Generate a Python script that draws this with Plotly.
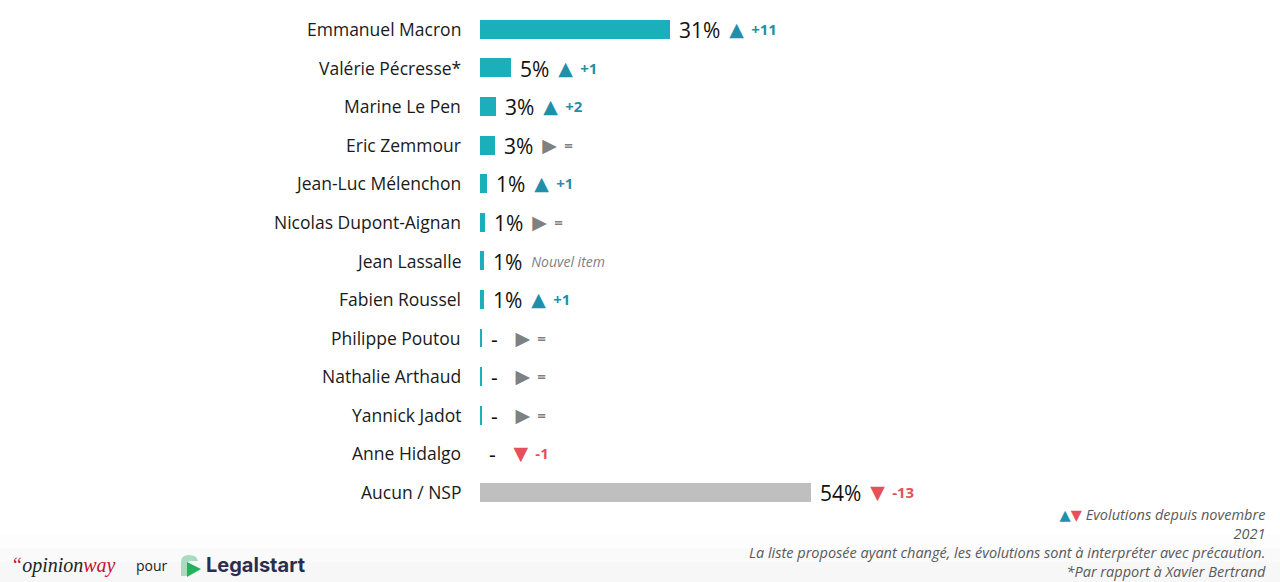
import plotly.graph_objects as go

# ---------------- data ----------------
candidates = ["Emmanuel Macron", "Valérie Pécresse*", "Marine Le Pen", "Eric Zemmour",
              "Jean-Luc Mélenchon", "Nicolas Dupont-Aignan", "Jean Lassalle", "Fabien Roussel",
              "Philippe Poutou", "Nathalie Arthaud", "Yannick Jadot", "Anne Hidalgo", "Aucun / NSP"]
bar_values = [31, 5.1, 2.55, 2.45, 1.1, 0.8, 0.7, 0.65, 0.4, 0.3, 0.28, 0, 54]
value_labels = ["31%", "5%", "3%", "3%", "1%", "1%", "1%", "1%", "-", "-", "-", "-", "54%"]
directions = ["up", "up", "up", "flat", "up", "flat", "new", "up", "flat", "flat", "flat", "down", "down"]
evolutions = ["+11", "+1", "+2", "=", "+1", "=", "Nouvel item", "+1", "=", "=", "=", "-1", "-13"]

footnotes = ["Evolutions depuis novembre", "2021",
             "La liste proposée ayant changé, les évolutions sont à interpréter avec précaution.",
             "*Par rapport à Xavier Bertrand"]

# ---------------- style ----------------
W, H = 1280, 582
TEAL = "#1AAFBA"
GREY_BAR = "#BFBFBF"
UP_C = "#1F8FAA"
DOWN_C = "#E5505B"
FLAT_C = "#808080"
FONT = "Open Sans, DejaVu Sans, sans-serif"
NB = "&nbsp;"

px_per_pct = 6.13
x0_px = 480
y_top_px, y_bot_px = 9.7, 511.3


def px(x):
    return x / W


def py(y):
    return 1 - y / H


colors = [GREY_BAR if c.startswith("Aucun") else TEAL for c in candidates]
ys = list(range(len(candidates)))

fig = go.Figure()
fig.add_trace(go.Bar(
    x=bar_values, y=ys, orientation="h", width=0.49,
    marker=dict(color=colors, line=dict(width=0)),
    hoverinfo="skip",
))

TRI = {"up": ("▲", UP_C), "down": ("▼", DOWN_C), "flat": ("▶", FLAT_C)}

annotations = []
for i, name in enumerate(candidates):
    annotations.append(dict(
        x=0, y=i, xref="x", yref="y", text=name, showarrow=False,
        xanchor="right", yanchor="middle", xshift=-17,
        font=dict(family=FONT, size=17.5, color="#1a1a1a"),
    ))
    d = directions[i]
    lead = NB * (4 if value_labels[i] == "-" else 2)
    if d in TRI:
        sym, col = TRI[d]
        tail = (f"<span style='font-size:17px'>{lead}</span>"
                f"<span style='color:{col};font-size:19px;baseline-shift:2px'>{sym}</span>"
                f"<span style='font-size:14px'>{NB}{NB}</span>"
                f"<span style='color:{col};font-size:15px;font-weight:bold;baseline-shift:3px'>{evolutions[i]}</span>")
    else:
        tail = (f"<span style='font-size:17px'>{lead}</span>"
                f"<span style='color:{FLAT_C};font-size:14px;font-style:italic;baseline-shift:3px'>{evolutions[i]}</span>")
    annotations.append(dict(
        x=bar_values[i], y=i, xref="x", yref="y", text=value_labels[i] + tail, showarrow=False,
        xanchor="left", yanchor="middle", xshift=7, yshift=-1,
        font=dict(family=FONT, size=21, color="#111111"),
    ))

# footnote block (right aligned)
foot_text = (f"<span style='color:{UP_C}'>▲</span><span style='color:{DOWN_C}'>▼</span> "
             f"<i>{footnotes[0]}</i><br><i>{footnotes[1]}</i><br><i>{footnotes[2]}</i><br><i>{footnotes[3]}</i>")
annotations.append(dict(
    x=px(1268), y=py(542.5), xref="paper", yref="paper", text=foot_text,
    showarrow=False, xanchor="right", yanchor="middle", align="right",
    font=dict(family=FONT, size=14.5, color="#595959"),
))

# logos as text
annotations.append(dict(
    x=px(9), y=py(565), xref="paper", yref="paper", showarrow=False,
    xanchor="left", yanchor="middle",
    text="<span style='color:#C8102E'>“</span><span style='color:#222'>opinion</span><span style='color:#C8102E'>way</span>",
    font=dict(family="Liberation Serif, DejaVu Serif, serif", size=20, style="italic"),
))
annotations.append(dict(
    x=px(134), y=py(565), xref="paper", yref="paper", showarrow=False,
    xanchor="left", yanchor="middle", text="pour",
    font=dict(family=FONT, size=14, color="#222"),
))
annotations.append(dict(
    x=px(204), y=py(565), xref="paper", yref="paper", showarrow=False,
    xanchor="left", yanchor="middle", text="<b>Legalstart</b>",
    font=dict(family="Inter, Roboto, sans-serif", size=20, color="#2B2D4F"),
))

shapes = []
# subtle bottom gradient
for y0, c in [(535, "#FDFDFD"), (548, "#FAFAFA"), (562, "#F7F7F7")]:
    shapes.append(dict(type="rect", xref="paper", yref="paper", x0=0, x1=1,
                       y0=py(582), y1=py(y0), fillcolor=c, line=dict(width=0), layer="below"))
# Legalstart icon
shapes.append(dict(type="path", xref="paper", yref="paper",
                   path=f"M {px(181)},{py(576)} L {px(181)},{py(562)} Q {px(181)},{py(555)} {px(189)},{py(555)} "
                        f"Q {px(197)},{py(555)} {px(198)},{py(561)} L {px(191)},{py(561)} Q {px(187)},{py(561)} {px(187)},{py(565)} "
                        f"L {px(187)},{py(576)} Z",
                   fillcolor="#A8DCC0", line=dict(width=0)))
shapes.append(dict(type="path", xref="paper", yref="paper",
                   path=f"M {px(187)},{py(562)} L {px(201)},{py(569)} L {px(187)},{py(577)} Z",
                   fillcolor="#22B25E", line=dict(width=0)))

fig.update_layout(
    width=W, height=H, autosize=False,
    margin=dict(l=0, r=0, t=0, b=0, pad=0),
    paper_bgcolor="white", plot_bgcolor="white",
    showlegend=False,
    xaxis=dict(domain=[px(x0_px), 1], range=[0, (W - x0_px) / px_per_pct], visible=False, fixedrange=True),
    yaxis=dict(domain=[py(y_bot_px), py(y_top_px)], range=[len(candidates) - 0.5, -0.5], visible=False, fixedrange=True),
    annotations=annotations,
    shapes=shapes,
    bargap=0,
)

fig.write_html("out.html")
